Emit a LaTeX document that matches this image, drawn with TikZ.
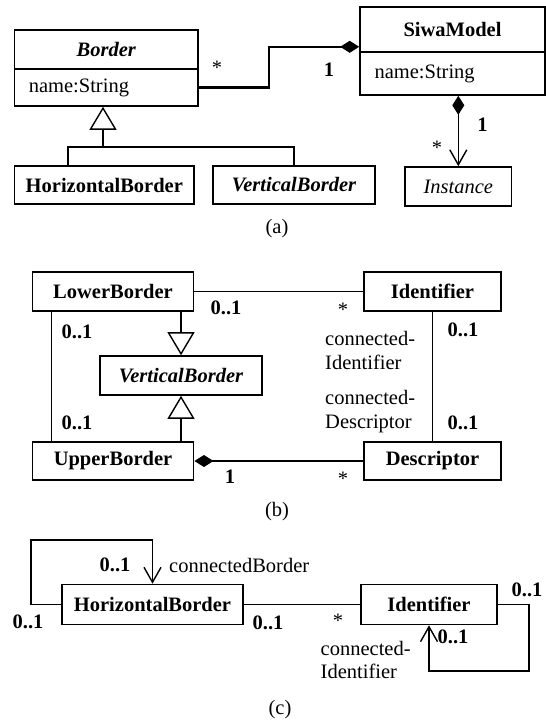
\documentclass[tikz,border=0pt]{standalone}
\usepackage{fontspec}
\setmainfont{Liberation Serif}
\usetikzlibrary{arrows.meta}
\begin{document}
\fontsize{20.5}{23.5}\selectfont
\begin{tikzpicture}[x=1pt,y=-1pt,
  cls/.style={draw, line width=1.6pt, inner sep=0pt, font=\bfseries},
  attr/.style={draw, line width=1.6pt, inner ysep=0pt, align=left},
  mult/.style={inner sep=0pt, font=\bfseries},
  star/.style={inner sep=0pt},
  role/.style={inner sep=0pt, anchor=west, align=left},
  lnk/.style={line width=1.4pt},
  heavy/.style={line width=2.6pt},
  gen/.style={-{Triangle[open, length=23pt, width=27pt, line width=1.4pt]}},
  comp/.style={{Diamond[length=19pt, width=12pt]}-},
  compend/.style={-{Diamond[length=19pt, width=12pt]}},
  compnav/.style={{Diamond[length=19pt, width=12pt]}-{Straight Barb[length=15pt, width=17pt, line width=1.4pt]}},
  nav/.style={-{Straight Barb[length=15pt, width=17pt, line width=1.4pt]}},
  caption/.style={inner sep=0pt}]
\useasboundingbox (0,0) rectangle (546,720);

% ---------- (a) ----------
\node[cls, font=\bfseries\itshape, minimum width=183.4pt, minimum height=39pt] (btitle) at (106.3,49.5) {Border};
\node[attr, text width=155pt, inner xsep=14.2pt, minimum height=37pt] (battr) at (106.3,87.5) {name:String};
\node[cls, minimum width=185pt, minimum height=45pt] (stitle) at (452.5,29.5) {SiwaModel};
\node[attr, text width=156pt, inner xsep=14.5pt, minimum height=43pt] (sattr) at (452.5,73.5) {name:String};
\node[cls, minimum width=179.4pt, minimum height=38pt] (hba) at (104.3,185) {HorizontalBorder};
\node[cls, font=\bfseries\itshape, minimum width=162pt, minimum height=38pt] (vba) at (294,185) {VerticalBorder};
\node[draw, line width=1.6pt, inner sep=0pt, font=\itshape, minimum width=106.5pt, minimum height=39pt] (inst) at (458.3,186.5) {Instance};

% generalization tree
\coordinate (gj) at (103,147);
\coordinate (gl) at (68,147);
\coordinate (gr) at (294,147);
\draw[heavy, gen] (gj) -- (gj |- battr.south);
\draw[lnk] (hba.north -| gl) -- (gl) -- (gr) -- (vba.north);

% composition Border -- SiwaModel
\coordinate (bend) at (269,88);
\draw[heavy, compend] (battr.east) -- (battr.east -| bend) |- ([yshift=6pt]stitle.south west);
\node[star] (ma1) at (217,68) {*};
\node[mult] (ma2) at (329,70) {1};

% composition SiwaModel -- Instance
\draw[lnk, compnav] (inst.north |- sattr.south) -- (inst.north);
\node[mult] (ma3) at (482.6,125) {1};
\node[star] (ma4) at (437,148) {*};

\node[caption] (capa) at (277,229) {(a)};

% ---------- (b) ----------
\node[cls, minimum width=161.3pt, minimum height=39pt] (lb) at (113,291.5) {LowerBorder};
\node[cls, minimum width=137pt, minimum height=39pt] (idb) at (432.5,291.5) {Identifier};
\node[cls, font=\bfseries\itshape, minimum width=162pt, minimum height=39pt] (vbb) at (181,375.5) {VerticalBorder};
\node[cls, minimum width=161.3pt, minimum height=38pt] (ub) at (113,461) {UpperBorder};
\node[cls, minimum width=137pt, minimum height=38pt] (de) at (432.5,461) {Descriptor};

\draw[lnk] (lb.east) -- (idb.west);
\draw[lnk] ([xshift=-61.4pt]lb.south) -- ([xshift=-61.4pt]ub.north);
\draw[lnk, gen] (lb.south -| vbb.north) -- (vbb.north);
\draw[lnk, gen] (ub.north -| vbb.south) -- (vbb.south);
\draw[lnk] (idb.south) -- (de.north);
\draw[lnk, comp] (ub.east) -- (de.west);

\node[mult] (mb1) at (226,308) {0..1};
\node[star] (mb2) at (343,310) {*};
\node[mult] (mb3) at (77,332) {0..1};
\node[mult] (mb4) at (77,423) {0..1};
\node[mult] (mb5) at (463,330) {0..1};
\node[mult] (mb6) at (463,423) {0..1};
\node[role] (rb1) at (325,350.5) {connected-\\Identifier};
\node[role] (rb2) at (325,411.5) {connected-\\Descriptor};
\node[mult] (mb7) at (230,477) {1};
\node[star] (mb8) at (343,479) {*};

\node[caption] (capb) at (277,512) {(b)};

% ---------- (c) ----------
\node[cls, minimum width=181pt, minimum height=40pt] (hbc) at (152.5,604.5) {HorizontalBorder};
\node[cls, minimum width=136pt, minimum height=40pt] (idc) at (429,604.5) {Identifier};

\draw[lnk] (hbc.east) -- (idc.west);
\coordinate (lp1) at (31,540);
\draw[lnk, nav] (hbc.west) -| (lp1) -| (hbc.north);
\coordinate (lp2) at (529,671);
\draw[lnk, nav] (idc.east) -| (lp2) -| (idc.south);

\node[mult] (mc1) at (115,565) {0..1};
\node[role] (rc1) at (169,565) {connectedBorder};
\node[mult] (mc2) at (28,622) {0..1};
\node[mult] (mc3) at (268,623) {0..1};
\node[star] (mc4) at (338,621) {*};
\node[mult] (mc5) at (527,590) {0..1};
\node[mult] (mc6) at (453,637) {0..1};
\node[role] (rc2) at (320.5,660) {connected-\\Identifier};

\node[caption] (capc) at (280,710) {(c)};
\end{tikzpicture}
\end{document}
